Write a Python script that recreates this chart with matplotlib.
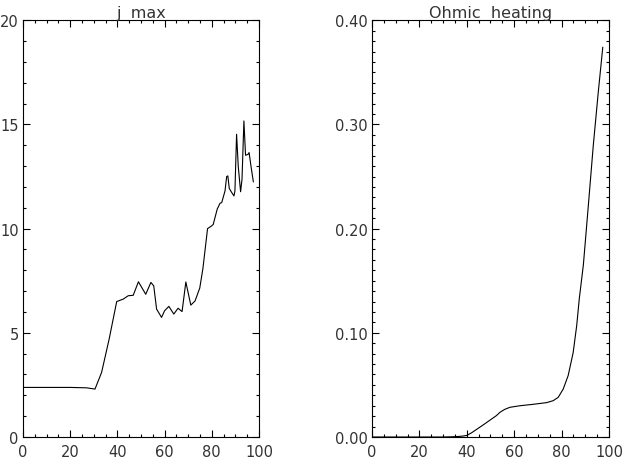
import matplotlib
matplotlib.use("Agg")
import matplotlib.pyplot as plt
from matplotlib.ticker import MultipleLocator, FormatStrFormatter

# j max (left panel)
jmax_t = [0, 10, 20, 27, 30.5, 33.3, 36.5, 39.7, 42.5, 44.6, 46.7, 48.9, 52.0, 54.2, 55.4,
          56.6, 58.7, 60.0, 61.8, 63.9, 65.7, 67.4, 69.0, 71.1, 72.9, 74.9, 76.2, 78.2,
          79.9, 80.6, 82.3, 83.5, 84.2, 85.6, 86.3, 86.8, 87.4, 88.4, 89.4, 89.8, 90.5,
          91.2, 92.2, 92.8, 93.6, 94.3, 95.4, 95.8, 96.6, 97.6]
jmax_v = [2.38, 2.38, 2.38, 2.36, 2.3, 3.1, 4.7, 6.5, 6.62, 6.78, 6.8, 7.45, 6.85, 7.42, 7.25,
          6.14, 5.74, 6.06, 6.27, 5.9, 6.18, 6.02, 7.44, 6.33, 6.53, 7.15, 8.06, 10.0,
          10.13, 10.2, 10.94, 11.22, 11.25, 11.81, 12.5, 12.53, 11.93, 11.74, 11.57, 11.81, 14.53,
          13.0, 11.77, 12.37, 15.17, 13.52, 13.57, 13.65, 13.0, 12.25]

# Ohmic heating (right panel)
ohm_t = [0, 10, 20, 30, 35, 38, 40, 42, 44.6, 47.5, 50.3, 52.5, 54.0, 56.0, 58.2, 62.4,
         68.1, 73.7, 76.5, 78.6, 80.7, 82.8, 84.9, 86.4, 87.5, 89.2, 91.3, 93.4, 95.5, 97.4]
ohm_v = [0.0, 0.0, 0.0, 0.0, 0.0003, 0.0008, 0.0015, 0.004, 0.008, 0.0125, 0.017, 0.0205,
         0.0237, 0.0265, 0.0285, 0.030, 0.0314, 0.033, 0.0349, 0.0381, 0.046, 0.059, 0.081,
         0.107, 0.133, 0.165, 0.222, 0.280, 0.331, 0.374]

plt.rcParams["font.family"] = "DejaVu Sans"

fig = plt.figure(figsize=(6.22, 4.6), dpi=100)
ax1 = fig.add_axes([0.037, 0.0478, 0.3794, 0.906])
ax2 = fig.add_axes([0.598, 0.0478, 0.381, 0.906])


def idl_style(ax, ymajor, yminor):
    ax.set_xlim(0, 100)
    ax.xaxis.set_major_locator(MultipleLocator(20))
    ax.xaxis.set_minor_locator(MultipleLocator(5))
    ax.yaxis.set_major_locator(MultipleLocator(ymajor))
    ax.yaxis.set_minor_locator(MultipleLocator(yminor))
    ax.tick_params(which="both", direction="in", top=True, right=True,
                   width=0.8, color="black", labelsize=10.5, labelcolor="#333333")
    ax.tick_params(which="major", length=5)
    ax.tick_params(which="minor", length=2.5)
    ax.tick_params(axis="x", pad=5)
    ax.tick_params(axis="y", pad=3)
    for s in ax.spines.values():
        s.set_linewidth(0.8)


ax1.plot(jmax_t, jmax_v, color="black", linewidth=0.8)
ax1.set_ylim(0, 20)
idl_style(ax1, 5, 1)
ax1.set_title("j  max", fontsize=11.5, pad=2, color="#333333")

ax2.plot(ohm_t, ohm_v, color="black", linewidth=0.8)
ax2.set_ylim(0, 0.4)
idl_style(ax2, 0.1, 0.01)
ax2.yaxis.set_major_formatter(FormatStrFormatter("%.2f"))
ax2.set_title("Ohmic  heating", fontsize=11.5, pad=2, color="#333333")

fig.savefig("out.png", dpi=100)
